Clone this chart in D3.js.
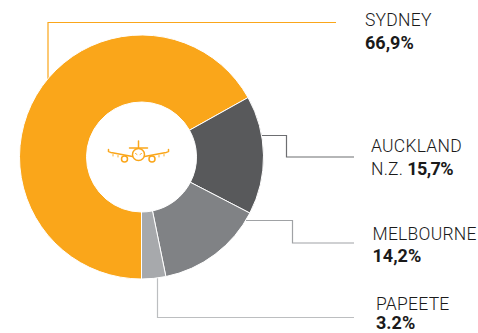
<!DOCTYPE html>
<html>
<head>
<meta charset="utf-8">
<script src="https://cdn.jsdelivr.net/npm/d3@7"></script>
<style>
  html, body { margin: 0; padding: 0; background: #fff; }
  text { font-family: Roboto, sans-serif; fill: #1a1a1a; }
  .name { font-size: 17.5px; font-weight: 300; letter-spacing: 0.25px; }
  .val { font-size: 18px; font-weight: 700; letter-spacing: 0; }
</style>
</head>
<body>
<div id="chart"></div>
<script>
// data
var cities = ['SYDNEY', 'AUCKLAND', 'MELBOURNE', 'PAPEETE'];
var shares = [66.9, 15.7, 14.2, 3.2];
var shareLabels = ['66,9%', '15,7%', '14,2%', '3.2%'];

var width = 478, height = 333;
var cx = 141.5, cy = 157, outer = 122, inner = 55;

var colors = d3.scaleOrdinal()
    .domain(cities)
    .range(['#faa61a', '#58595b', '#808285', '#a7a9ac']);

var svg = d3.select('#chart')
    .append('svg')
    .attr('width', width)
    .attr('height', height)
    .style('display', 'block');

// leader lines go under the donut
var leaders = [
    [[48, 82], [48, 22.5], [336, 22.5]],
    [[258, 135.5], [286.5, 135.5], [286.5, 157], [354, 157]],
    [[240, 220.5], [292.5, 220.5], [292.5, 243], [354, 243]],
    [[157.5, 270], [157.5, 317.5], [354, 317.5]]
];
var lineColors = ['#faa61a', '#6d6e71', '#a0a2a5', '#bcbec0'];

svg.selectAll('.leader')
    .data(leaders)
    .enter().append('path')
    .attr('class', 'leader')
    .attr('d', d3.line())
    .attr('fill', 'none')
    .attr('stroke', function(d, i) { return lineColors[i]; })
    .attr('stroke-width', 1.2);

// donut starts at 6 o'clock and runs clockwise
var pie = d3.pie()
    .sort(null)
    .startAngle(Math.PI)
    .endAngle(3 * Math.PI);

var arc = d3.arc().innerRadius(inner).outerRadius(outer);

svg.append('g')
    .attr('transform', 'translate(' + cx + ',' + cy + ')')
    .selectAll('path')
    .data(pie(shares))
    .enter().append('path')
    .attr('d', arc)
    .attr('fill', function(d, i) { return colors(cities[i]); })
    .attr('stroke', '#fff')
    .attr('stroke-width', 1);

// labels
svg.append('text').attr('class', 'name').attr('x', 365).attr('y', 26).text(cities[0]);
svg.append('text').attr('class', 'val').attr('x', 365).attr('y', 49).text(shareLabels[0]);

svg.append('text').attr('class', 'name').attr('x', 371).attr('y', 151.5).text(cities[1]);
var nz = svg.append('text').attr('class', 'name').attr('x', 371).attr('y', 174.5);
nz.append('tspan').text('N.Z. ');
nz.append('tspan').attr('class', 'val').attr('dx', -0.5).style('letter-spacing', '-0.6px').text(shareLabels[1]);

svg.append('text').attr('class', 'name').attr('x', 372.5).attr('y', 240).text(cities[2]);
svg.append('text').attr('class', 'val').attr('x', 372.5).attr('y', 261.5).text(shareLabels[2]);

// the last value sits just inside the bottom edge
svg.append('text').attr('class', 'name').attr('x', 376).attr('y', 309.5).text(cities[3]);
svg.append('text').attr('class', 'val').attr('x', 376).attr('y', 328.5).text(shareLabels[3]);

// plane icon in the hole
var plane = svg.append('g')
    .attr('fill', 'none')
    .attr('stroke', '#faa61a')
    .attr('stroke-width', 1.5)
    .attr('stroke-linecap', 'round');
plane.append('path').attr('d', 'M138.5 141V147 M129.5 148H147.5');
plane.append('circle').attr('cx', 138.5).attr('cy', 154.5).attr('r', 6);
plane.append('circle').attr('cx', 124.5).attr('cy', 159).attr('r', 3);
plane.append('circle').attr('cx', 152).attr('cy', 159).attr('r', 3);
plane.append('path').attr('d', 'M108.5 149.5V151.5Q109 152 111 152.5L132.5 156.5');
plane.append('path').attr('d', 'M168.5 149.5V151.5Q168 152 166 152.5L144.5 156.5');
plane.append('path')
    .attr('stroke-width', 0.9)
    .attr('d', 'M113 154.5V156 M118 155.5V157 M159 155.5V157 M164 154.5V156 M135.5 153.5L137 154.5 M141.5 153.5L140 154.5');
</script>
</body>
</html>
